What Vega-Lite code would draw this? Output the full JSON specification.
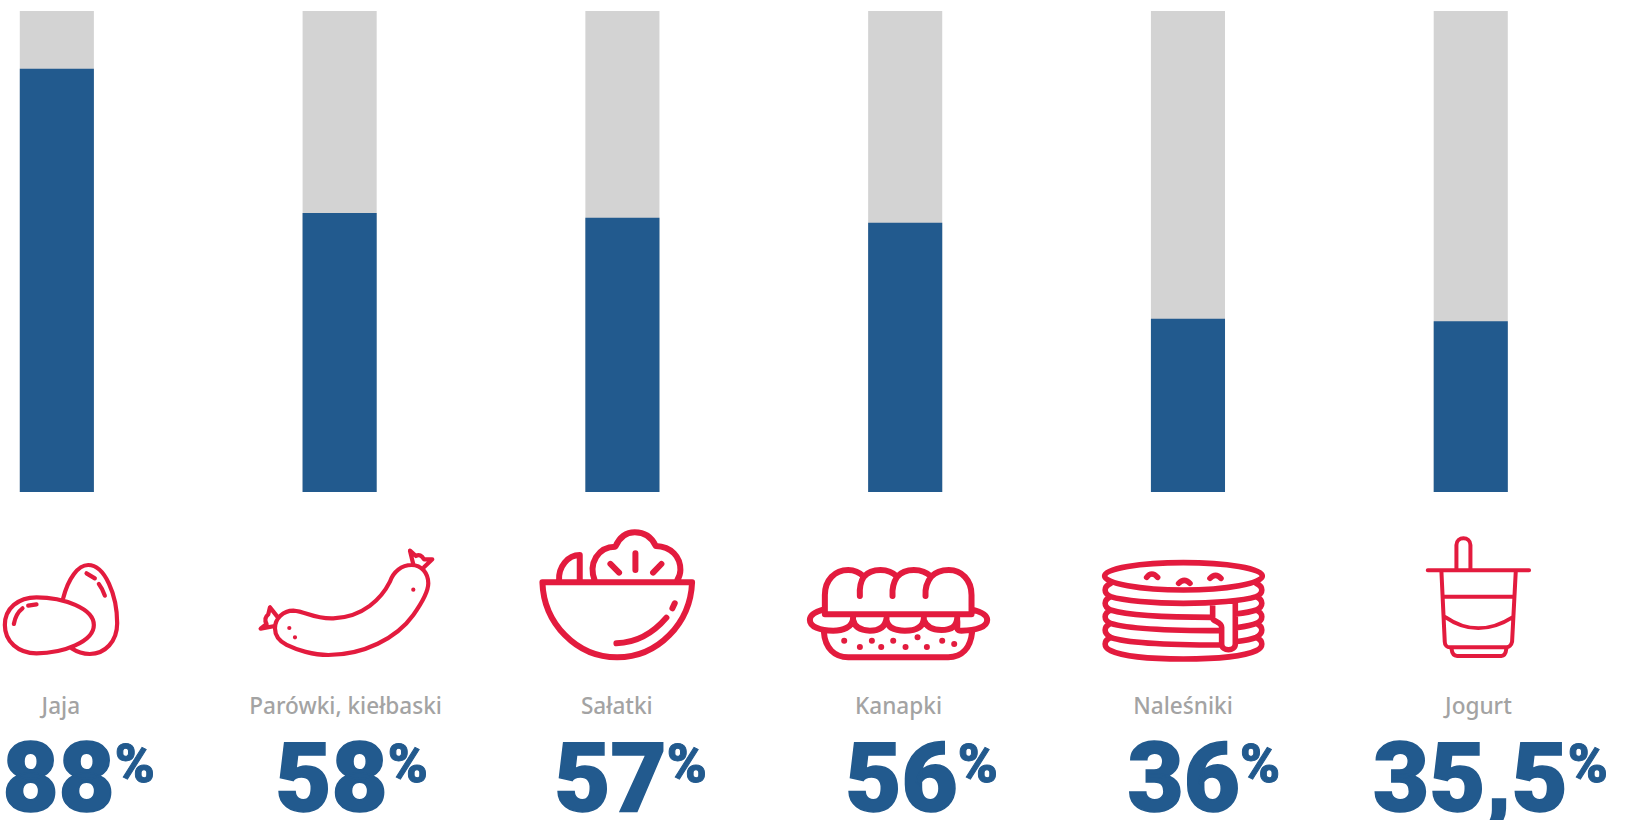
{
  "$schema": "https://vega.github.io/schema/vega-lite/v6.json",
  "width": 1635,
  "height": 820,
  "autosize": {"type": "none"},
  "padding": 0,
  "background": "#ffffff",
  "config": {"view": {"stroke": null}},
  "data": {
    "values": [
      {"food": "Jaja", "share": 88, "figure": "88"},
      {"food": "Parówki, kiełbaski", "share": 58, "figure": "58"},
      {"food": "Sałatki", "share": 57, "figure": "57"},
      {"food": "Kanapki", "share": 56, "figure": "56"},
      {"food": "Naleśniki", "share": 36, "figure": "36"},
      {"food": "Jogurt", "share": 35.5, "figure": "35,5"}
    ]
  },
  "encoding": {
    "x": {
      "field": "food",
      "type": "nominal",
      "sort": null,
      "axis": null,
      "scale": {
        "domain": ["Jaja", "Parówki, kiełbaski", "Sałatki", "Kanapki", "Naleśniki", "Jogurt"],
        "range": [19.8, 1507.8],
        "paddingInner": 0.738,
        "paddingOuter": 0,
        "align": 0
      }
    }
  },
  "layer": [
    {
      "mark": {"type": "bar", "color": "#d3d3d3"},
      "encoding": {
        "y": {"datum": 100, "type": "quantitative", "axis": null, "scale": {"domain": [0, 100], "range": [492, 11]}},
        "y2": {"datum": 0}
      }
    },
    {
      "mark": {"type": "bar", "color": "#225a8e"},
      "encoding": {
        "y": {"field": "share", "type": "quantitative", "axis": null, "scale": {"domain": [0, 100], "range": [492, 11]}},
        "y2": {"datum": 0}
      }
    },
    {
      "mark": {
        "type": "point",
        "filled": false,
        "opacity": 1,
        "size": 0.4444,
        "color": "#e31b3e",
        "strokeCap": "round",
        "strokeJoin": "round"
      },
      "encoding": {
        "y": {"datum": 0, "type": "quantitative", "axis": null, "scale": {"domain": [0, 100], "range": [492, 11]}},
        "strokeWidth": {
          "condition": [
            {"test": "datum.food === 'Jaja'", "value": 4.2},
            {"test": "datum.food === 'Parówki, kiełbaski'", "value": 4.2},
            {"test": "datum.food === 'Jogurt'", "value": 4},
            {"test": "datum.food === 'Naleśniki'", "value": 5.6}
          ],
          "value": 6
        },
        "shape": {
          "field": "food",
          "type": "nominal",
          "legend": null,
          "scale": {
            "domain": ["Jaja", "Parówki, kiełbaski", "Sałatki", "Kanapki", "Naleśniki", "Jogurt"],
            "range": [
              "M-156,399 C-156,349 -116,316 -61,316 C19,316 111,349 111,399 C111,449 19,484 -61,484 C-116,484 -156,449 -156,399 Z M-129,396 Q-123,364 -103,349 M-86,341 L-61,337 M19,319 C34,259 64,219 94,219 C144,219 181,309 181,394 C181,449 144,486 99,486 C79,486 59,479 44,469 M89,244 L114,259 M126,276 Q137,290 144,311",
              "M-139,356 C-99,359 -79,381 -19,379 C71,376 126,319 151,269 C161,239 186,219 216,219 C246,219 266,244 266,274 C266,299 246,334 221,369 C171,439 71,489 -34,489 C-79,489 -129,474 -159,459 C-184,446 -194,429 -194,409 C-194,379 -169,356 -139,356 Z M-151,408 L-150.9,408 M-134,436 L-133.9,436 M221,293 L221.1,293 M221,217 L211,176 L229,192 Q243,184 253,202 L278,202 L253,226 M-187,374 L-209,346 L-214,367 Q-229,379 -219,396 L-237,410 L-194,402",
              "M-240,271 L209,271 M-240,271 C-236,394 -138,496 -16,496 C107,496 204,394 209,271 M-18,454 C42,452 92,424 132,377 M157,334 L150,349 M-190,266 C-193,224 -163,189 -128,189 L-128,266 M-83,266 C-103,214 -73,164 -21,164 C-8,134 12,121 37,121 C67,121 87,134 100,162 C147,164 174,194 174,234 C174,246 170,256 164,266 M39,184 L39,234 M-36,216 L-10,242 M117,216 L92,242",
              "M-241,367 L-241,309 C-241,264 -211,234 -171,234 C-151,234 -136,242 -124,254 C-111,239 -96,234 -74,234 C-51,234 -36,242 -24,254 C-11,239 4,234 26,234 C49,234 66,242 78,254 C92,239 109,234 131,234 C169,234 199,264 199,309 L199,367 Z M-136,312 C-138,284 -134,269 -124,254 M-38,312 C-40,284 -34,269 -24,254 M61,312 C59,284 66,269 78,254 M-244,352 C-271,359 -286,369 -286,384 C-286,404 -256,416 -216,416 C-191,416 -156,409 -156,374 M-156,384 Q-151,414 -106,416 Q-61,416 -56,379 M-56,384 Q-51,416 -1,416 Q54,416 56,379 M56,384 Q66,414 109,414 Q154,414 156,379 M199,352 C229,359 246,369 246,384 C246,404 214,416 169,416 C149,416 159,404 156,384 M-244,419 C-241,469 -211,496 -171,496 L129,496 C169,496 196,469 201,419 M-183,446 L-182.9,446 M-136,465 L-135.9,465 M-100,446 L-99.9,446 M-72,465 L-71.9,465 M-36,446 L-35.9,446 M1,465 L1.1,465 M37,436 L37.1,436 M65,465 L65.1,465 M111,446 L111.1,446 M147,456 L147.1,456",
              "M-250,252 C-250,229 -144,212 -14,212 C116,212 223,229 223,252 C223,274 116,294 -14,294 C-144,294 -250,274 -250,252 Z M-232,274 C-254,284 -254,304 -232,314 C-194,326 -104,334 -14,334 C76,334 166,326 205,314 C227,304 227,284 205,274 M-232,314 C-254,324 -254,344 -232,354 C-194,366 -94,376 74,376 M142,366 C166,363 191,359 205,354 C227,344 227,324 205,314 M-232,354 C-254,364 -254,384 -232,394 C-194,406 -94,416 98,416 M142,408 C166,404 191,400 205,394 C227,384 227,364 205,354 M-232,394 C-254,404 -254,424 -232,436 C-194,450 -94,459 98,459 M142,449 C166,446 191,442 205,436 C227,424 227,404 205,394 M-232,436 C-254,446 -254,466 -232,476 C-194,494 -104,501 -14,501 C76,501 166,494 205,476 C227,466 227,446 205,436 M74,334 L74,379 C76,389 101,389 101,406 L101,456 C101,479 142,479 142,456 L142,332 M-124,256 Q-109,236 -91,256 M-28,274 Q-11,256 6,274 M66,259 Q83,241 99,259",
              "M-129,235 L175,235 M-43,232 L-43,159 C-43,132 -1,132 -1,159 L-1,232 M-88,239 L-78,449 C-78,460 -70,466 -63,466 L107,466 C114,466 122,460 124,449 L135,239 M-83,314 L129,314 M-75,376 C-13,419 57,419 125,376 M-58,469 C-56,486 -51,492 -41,492 L92,492 C100,492 105,486 107,469"
            ]
          }
        }
      }
    },
    {
      "mark": {
        "type": "text",
        "font": "Noto Sans",
        "fontWeight": 500,
        "fontSize": 22.6,
        "color": "#a3a3a3",
        "align": "center",
        "baseline": "alphabetic",
        "dy": 222,
        "dx": {"expr": "{'Jaja':4,'Parówki, kiełbaski':6,'Sałatki':-5.6,'Kanapki':-6.7,'Naleśniki':-5,'Jogurt':7.7}[datum.food]"}
      },
      "encoding": {
        "y": {"datum": 0, "type": "quantitative", "axis": null, "scale": {"domain": [0, 100], "range": [492, 11]}},
        "text": {"field": "food", "type": "nominal"}
      }
    },
    {
      "mark": {
        "type": "text",
        "font": "Roboto",
        "fontWeight": 900,
        "fontSize": 97,
        "color": "#225a8e",
        "stroke": "#225a8e",
        "strokeWidth": 1.5,
        "align": "right",
        "baseline": "alphabetic",
        "dy": 319,
        "dx": {"expr": "{'Jaja':58,'Parówki, kiełbaski':48,'Sałatki':44.4,'Kanapki':52.6,'Naleśniki':52,'Jogurt':97}[datum.food]"}
      },
      "encoding": {
        "y": {"datum": 0, "type": "quantitative", "axis": null, "scale": {"domain": [0, 100], "range": [492, 11]}},
        "text": {"field": "figure", "type": "nominal"}
      }
    },
    {
      "mark": {
        "type": "text",
        "text": "%",
        "font": "Roboto",
        "fontWeight": 900,
        "fontSize": 54,
        "color": "#225a8e",
        "stroke": "#225a8e",
        "strokeWidth": 1,
        "align": "left",
        "baseline": "alphabetic",
        "dy": 290,
        "dx": {"expr": "{'Jaja':58,'Parówki, kiełbaski':48,'Sałatki':44.4,'Kanapki':52.6,'Naleśniki':52,'Jogurt':97}[datum.food]"}
      },
      "encoding": {
        "y": {"datum": 0, "type": "quantitative", "axis": null, "scale": {"domain": [0, 100], "range": [492, 11]}}
      }
    }
  ]
}
